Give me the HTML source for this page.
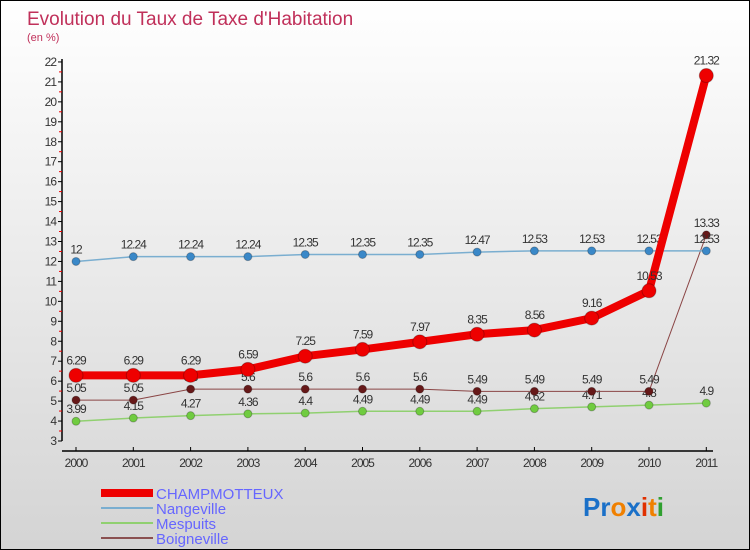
<!DOCTYPE html>
<html><head><meta charset="utf-8"><style>
body{margin:0}
#wrap{width:748px;height:548px;border:1px solid #000;background:linear-gradient(#fff,#d4d4d4);position:relative;overflow:hidden;font-family:"Liberation Sans",sans-serif}
</style></head><body>
<div id="wrap">
<svg id="svg" width="748" height="548" xmlns="http://www.w3.org/2000/svg">
<text x="26" y="24" font-size="19" fill="#c0305a">Evolution du Taux de Taxe d'Habitation</text>
<text x="26" y="40" font-size="11" fill="#c0305a">(en %)</text>
<g id="axes"></g><g id="series"></g>
<g>
<rect x="100" y="488" width="52" height="8" fill="#e00"/>
<text x="155" y="498" font-size="15" fill="#6666ff">CHAMPMOTTEUX</text>
<rect x="100" y="506" width="52" height="2" fill="#7aaed0"/>
<text x="155" y="513" font-size="15" fill="#6666ff">Nangeville</text>
<rect x="100" y="521" width="52" height="2" fill="#90d070"/>
<text x="155" y="528" font-size="15" fill="#6666ff">Mespuits</text>
<rect x="100" y="536" width="52" height="2" fill="#8a5050"/>
<text x="155" y="543" font-size="15" fill="#6666ff">Boigneville</text>
</g>
<text x="582" y="515" font-size="26" font-weight="bold"><tspan fill="#1a70c8">Pr</tspan><tspan fill="#f08000">o</tspan><tspan fill="#1a70c8">x</tspan><tspan fill="#e03000">i</tspan><tspan fill="#f08000">t</tspan><tspan fill="#30a030">i</tspan></text>
</svg></div>
<script>
const years=[2000,2001,2002,2003,2004,2005,2006,2007,2008,2009,2010,2011];
const champ=[6.29,6.29,6.29,6.59,7.25,7.59,7.97,8.35,8.56,9.16,10.53,21.32];
const nange=[12,12.24,12.24,12.24,12.35,12.35,12.35,12.47,12.53,12.53,12.53,12.53];
const mesp=[3.99,4.15,4.27,4.36,4.4,4.49,4.49,4.49,4.62,4.71,4.8,4.9];
const boign=[5.05,5.05,5.6,5.6,5.6,5.6,5.6,5.49,5.49,5.49,5.49,13.33];
const yTicks=[3,4,5,6,7,8,9,10,11,12,13,14,15,16,17,18,19,20,21,22];
const NS="http://www.w3.org/2000/svg";
const X=i=>75+i*57.3, Y=v=>440-(v-3)*19.95;
function mk(t,a,p){const e=document.createElementNS(NS,t);for(const k in a)e.setAttribute(k,a[k]);p.appendChild(e);return e;}
const ax=document.getElementById('axes'),sg=document.getElementById('series');
let l=mk('line',{x1:61,y1:58,x2:61,y2:440,stroke:'#000','stroke-width':1.5},ax);

l=mk('line',{x1:61,y1:450,x2:712,y2:450,stroke:'#000','stroke-width':1.5},ax);

yTicks.forEach(v=>{const y=Y(v);
 mk('line',{x1:57,y1:y,x2:61,y2:y,stroke:'#000'},ax);
 if(v<22)mk('line',{x1:58,y1:y-10,x2:61,y2:y-10,stroke:'#e00'},ax);
 const t=mk('text',{x:55,y:y+4,'font-size':12,fill:'#333','text-anchor':'end','letter-spacing':'-1'},ax);t.textContent=v;
 });
years.forEach((yr,i)=>{const x=X(i);
 mk('line',{x1:x,y1:446,x2:x,y2:450,stroke:'#000'},ax);
 const t=mk('text',{x:x,y:466,'font-size':12,fill:'#333','text-anchor':'middle','letter-spacing':'-1'},ax);t.textContent=yr;
 });
function series(vals,name,color,w,r,dot){
 const g=mk('g',{},sg);
 mk('polyline',{points:vals.map((v,i)=>X(i)+','+Y(v)).join(' '),fill:'none',stroke:color,'stroke-width':w,'stroke-linejoin':'round'},g);
 vals.forEach((v,i)=>{const c=mk('circle',{cx:X(i),cy:Y(v),r:r,fill:dot,stroke:'rgba(0,0,0,0.25)'},g);
  
  const t=mk('text',{x:X(i),y:Y(v)-r-4,'font-size':12,fill:'#333','text-anchor':'middle','letter-spacing':'-1'},g);t.textContent=v;
  });
}
series(mesp,'mespuits','#90d070',1.5,4,'#70cc40');
series(boign,'boigneville','#8a4545',1,4,'#661818');
series(nange,'nangeville','#7aaed0',1.5,4,'#3a88c8');
series(champ,'champmotteux','#ee0000',8,7,'#ee0000');
</script>
</body></html>
